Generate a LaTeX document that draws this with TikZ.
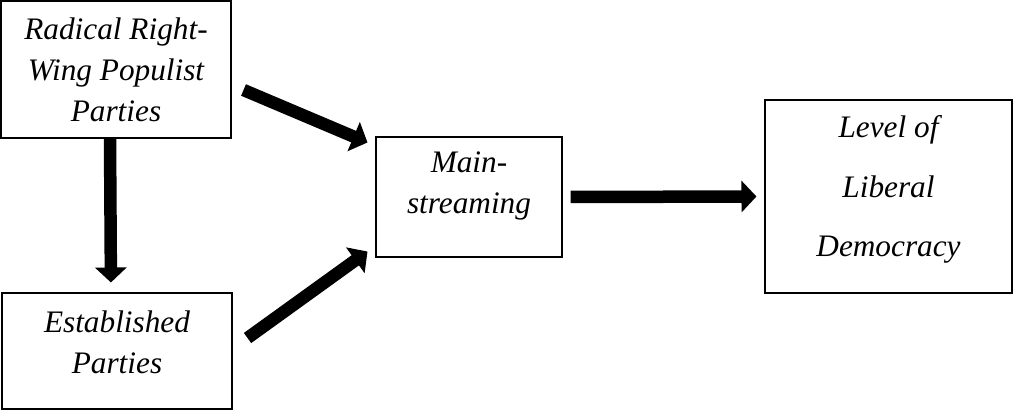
\documentclass[tikz,border=0pt]{standalone}
\usepackage{fontspec}
\setmainfont{Liberation Serif}
\usetikzlibrary{arrows.meta}

\begin{document}
\begin{tikzpicture}[
	box/.style={draw, line width=0.6pt, inner sep=0pt},
	txt/.style={align=center, font=\itshape\fontsize{17.8}{23.3}\selectfont},
	fat/.style={line width=0.25cm, -{Triangle[width=0.62cm,length=0.3cm]}}]
	\useasboundingbox (0,0) rectangle (20.26,8.28);

	\node[box, minimum width=4.6cm, minimum height=2.74cm](rrwp) at (2.32,6.89) {};
	\node[box, minimum width=4.6cm, minimum height=2.32cm](est) at (2.34,1.26) {};
	\node[box, minimum width=3.72cm, minimum height=2.4cm](main) at (9.38,4.34) {};
	\node[box, minimum width=4.94cm, minimum height=3.86cm](level) at (17.77,4.35) {};

	\node[txt](rrwpT) at (2.32,6.89) {Radical Right-\\Wing Populist\\Parties};
	\node[txt](estT) at (2.34,1.44) {Established\\Parties};
	\node[txt](mainT) at (9.38,4.56) {Main-\\streaming};
	\node[txt, font=\itshape\fontsize{17.8}{34}\selectfont](levelT) at (17.77,4.49) {Level of\\Liberal\\Democracy};

	\draw[fat, shorten >=0.2cm]([xshift=-0.12cm]rrwp.south) -- ([xshift=-0.12cm]est.north);
	\draw[fat]([xshift=0.24cm, yshift=-0.41cm]rrwp.east) -- ([xshift=-0.16cm, yshift=-0.12cm]main.north west);
	\draw[fat]([xshift=0.3cm, yshift=0.26cm]est.east) -- ([xshift=-0.16cm, yshift=0.12cm]main.south west);
	\draw[fat]([xshift=0.16cm]main.east) -- ([xshift=-0.16cm]level.west);
\end{tikzpicture}
\end{document}
